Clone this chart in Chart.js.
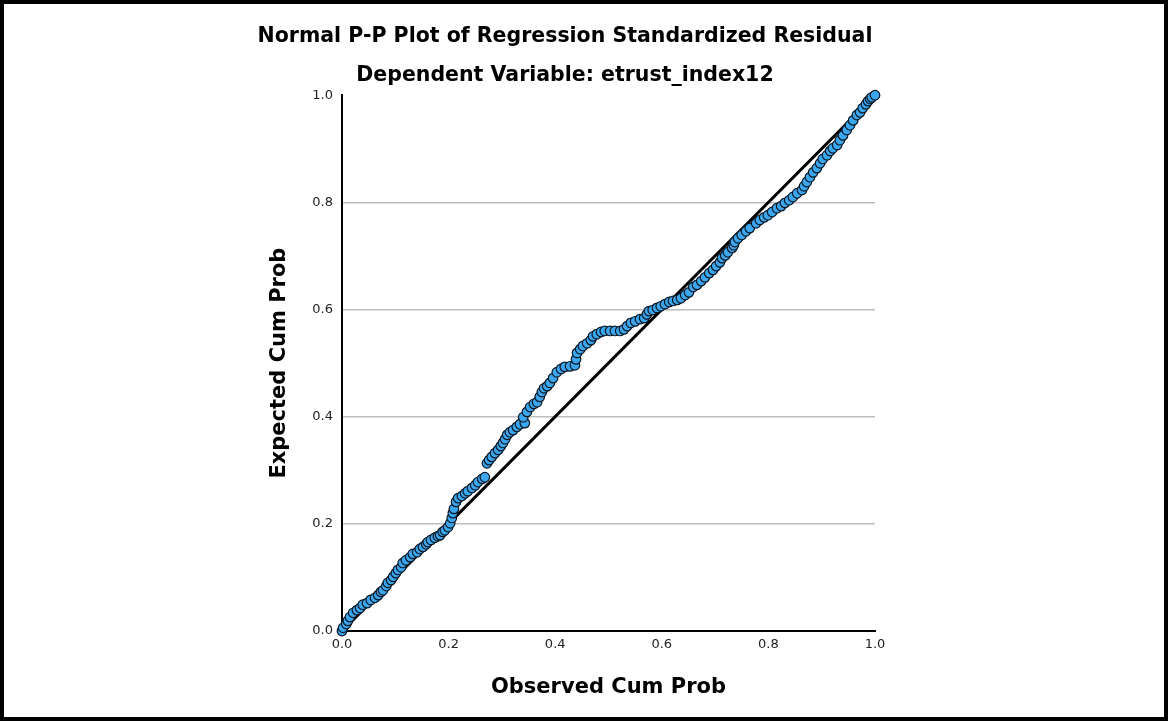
<!DOCTYPE html>
<html>
<head>
<meta charset="utf-8">
<title>Normal P-P Plot</title>
<script src="https://cdn.jsdelivr.net/npm/chart.js@4.4.0/dist/chart.umd.min.js"></script>
<style>
    html, body { margin: 0; padding: 0; background: #fff; }
    #wrap { position: relative; width: 1168px; height: 721px; }
    #frame {
        position: absolute; left: 0; top: 0;
        width: 1168px; height: 721px;
        box-sizing: border-box; border: 4px solid #000;
        pointer-events: none;
    }
</style>
</head>
<body>
<div id="wrap">
    <canvas id="ppChart" width="1168" height="721"></canvas>
    <div id="frame"></div>
</div>
<script>
// Observed vs expected cumulative probabilities (one entry per case marker)
const observedCumProb = [
    0.000, 0.002, 0.008, 0.011, 0.015, 0.021, 0.028, 0.034, 0.039, 0.047,
    0.054, 0.062, 0.068, 0.073, 0.077, 0.083, 0.086, 0.092, 0.096, 0.101,
    0.105, 0.111, 0.114, 0.120, 0.128, 0.133, 0.141, 0.146, 0.152, 0.158,
    0.161, 0.167, 0.174, 0.180, 0.184, 0.189, 0.193, 0.199, 0.203, 0.206,
    0.208, 0.210, 0.214, 0.218, 0.225, 0.231, 0.236, 0.244, 0.250, 0.255,
    0.263, 0.268, 0.272, 0.276, 0.281, 0.287, 0.293, 0.298, 0.302, 0.306,
    0.310, 0.315, 0.321, 0.328, 0.334, 0.343, 0.340, 0.347, 0.353, 0.360,
    0.366, 0.371, 0.375, 0.379, 0.385, 0.390, 0.396, 0.403, 0.411, 0.418,
    0.428, 0.437, 0.439, 0.441, 0.447, 0.452, 0.460, 0.467, 0.471, 0.478,
    0.486, 0.493, 0.503, 0.512, 0.522, 0.529, 0.535, 0.542, 0.550, 0.559,
    0.567, 0.572, 0.576, 0.583, 0.591, 0.598, 0.606, 0.614, 0.621, 0.629,
    0.636, 0.644, 0.651, 0.659, 0.666, 0.674, 0.681, 0.689, 0.696, 0.702,
    0.709, 0.713, 0.719, 0.724, 0.732, 0.735, 0.737, 0.743, 0.750, 0.758,
    0.765, 0.777, 0.784, 0.792, 0.799, 0.807, 0.816, 0.824, 0.831, 0.839,
    0.846, 0.854, 0.863, 0.867, 0.872, 0.878, 0.884, 0.891, 0.897, 0.902,
    0.910, 0.916, 0.921, 0.929, 0.934, 0.940, 0.947, 0.953, 0.959, 0.966,
    0.972, 0.977, 0.983, 0.987, 0.991, 0.994, 1.000
];
const expectedCumProb = [
    0.000, 0.006, 0.013, 0.019, 0.026, 0.034, 0.039, 0.043, 0.049, 0.052,
    0.058, 0.062, 0.067, 0.073, 0.076, 0.084, 0.090, 0.095, 0.101, 0.108,
    0.114, 0.119, 0.127, 0.132, 0.138, 0.144, 0.147, 0.153, 0.157, 0.162,
    0.166, 0.170, 0.174, 0.177, 0.179, 0.185, 0.188, 0.194, 0.201, 0.211,
    0.220, 0.228, 0.241, 0.248, 0.252, 0.257, 0.261, 0.267, 0.272, 0.278,
    0.284, 0.287, 0.313, 0.319, 0.325, 0.332, 0.338, 0.345, 0.351, 0.358,
    0.366, 0.371, 0.375, 0.381, 0.386, 0.388, 0.399, 0.409, 0.418, 0.424,
    0.427, 0.437, 0.446, 0.453, 0.457, 0.463, 0.472, 0.483, 0.489, 0.493,
    0.494, 0.496, 0.507, 0.519, 0.526, 0.532, 0.537, 0.543, 0.550, 0.554,
    0.558, 0.560, 0.560, 0.560, 0.560, 0.563, 0.569, 0.575, 0.578, 0.582,
    0.584, 0.591, 0.597, 0.599, 0.603, 0.606, 0.610, 0.614, 0.616, 0.618,
    0.621, 0.627, 0.632, 0.642, 0.646, 0.653, 0.660, 0.668, 0.674, 0.681,
    0.688, 0.696, 0.701, 0.707, 0.715, 0.720, 0.726, 0.733, 0.739, 0.746,
    0.752, 0.761, 0.767, 0.772, 0.776, 0.782, 0.789, 0.793, 0.799, 0.804,
    0.810, 0.817, 0.823, 0.830, 0.838, 0.847, 0.856, 0.864, 0.873, 0.881,
    0.888, 0.896, 0.901, 0.907, 0.916, 0.925, 0.935, 0.944, 0.953, 0.963,
    0.968, 0.976, 0.983, 0.989, 0.993, 0.996, 1.000
];

// Diagonal reference line (expected == observed)
const refLineX = [0, 1];
const refLineY = [0, 1];

const tickValues = [0, 0.2, 0.4, 0.6, 0.8, 1.0];
const tickLabels = ['0.0', '0.2', '0.4', '0.6', '0.8', '1.0'];

document.addEventListener("DOMContentLoaded", () => {
    initPPChart();
});

function initPPChart() {
    const ctx = document.getElementById('ppChart');
    if (!ctx) return;

    Chart.defaults.font.family = "'DejaVu Sans', sans-serif";
    Chart.defaults.color = '#222';

    const points = observedCumProb.map((x, i) => ({ x: x, y: expectedCumProb[i] }));
    const refLine = refLineX.map((x, i) => ({ x: x, y: refLineY[i] }));

    const titleFont = { family: "'DejaVu Sans', sans-serif", size: 20.5, weight: 'bold', lineHeight: 1.2 };
    const axisTitleFont = { family: "'DejaVu Sans', sans-serif", size: 21, weight: 'bold', lineHeight: 1.2 };
    const tickFont = { family: "'DejaVu Sans', sans-serif", size: 13 };

    new Chart(ctx, {
        type: 'scatter',
        data: {
            datasets: [
                {
                    type: 'line',
                    label: 'Reference',
                    data: refLine,
                    borderColor: '#000',
                    borderWidth: 3,
                    pointRadius: 0,
                    fill: false,
                    order: 2
                },
                {
                    label: 'Standardized Residual',
                    data: points,
                    backgroundColor: '#3aa6ee',
                    borderColor: '#0a1622',
                    borderWidth: 1.2,
                    pointRadius: 4.8,
                    clip: false,
                    order: 1
                }
            ]
        },
        options: {
            responsive: false,
            animation: false,
            layout: {
                padding: { left: 255, right: 293, top: 4, bottom: 4 }
            },
            plugins: {
                legend: { display: false },
                tooltip: { enabled: false },
                title: {
                    display: true,
                    text: 'Normal P-P Plot of Regression Standardized Residual',
                    color: '#000',
                    font: titleFont,
                    padding: { top: 20, bottom: 0 }
                },
                subtitle: {
                    display: true,
                    text: 'Dependent Variable: etrust_index12',
                    color: '#000',
                    font: titleFont,
                    padding: { top: 15, bottom: 7 }
                }
            },
            scales: {
                x: {
                    type: 'linear',
                    min: 0,
                    max: 1,
                    afterBuildTicks: (scale) => { scale.ticks = tickValues.map(v => ({ value: v })); },
                    afterFit: (scale) => { scale.height = 86; },
                    grid: { display: false, drawTicks: false },
                    border: { display: true, color: '#000', width: 2 },
                    ticks: {
                        padding: 6,
                        color: '#222',
                        font: tickFont,
                        maxRotation: 0,
                        callback: (value, index) => tickLabels[index]
                    },
                    title: {
                        display: true,
                        text: 'Observed Cum Prob',
                        color: '#000',
                        font: axisTitleFont,
                        padding: { top: 0, bottom: 17 }
                    }
                },
                y: {
                    type: 'linear',
                    min: 0,
                    max: 1,
                    afterBuildTicks: (scale) => { scale.ticks = tickValues.map(v => ({ value: v })); },
                    afterFit: (scale) => { scale.width = 87; },
                    grid: {
                        drawTicks: false,
                        lineWidth: 1.5,
                        color: (c) => (c.tick && c.tick.value > 0 && c.tick.value < 1) ? '#bdbdbd' : 'rgba(0,0,0,0)'
                    },
                    border: { display: true, color: '#000', width: 2 },
                    ticks: {
                        padding: 9,
                        color: '#222',
                        font: tickFont,
                        callback: (value, index) => tickLabels[index]
                    },
                    title: {
                        display: true,
                        text: 'Expected Cum Prob',
                        color: '#000',
                        font: axisTitleFont,
                        padding: { top: 12, bottom: 0 }
                    }
                }
            }
        }
    });
}
</script>
</body>
</html>
